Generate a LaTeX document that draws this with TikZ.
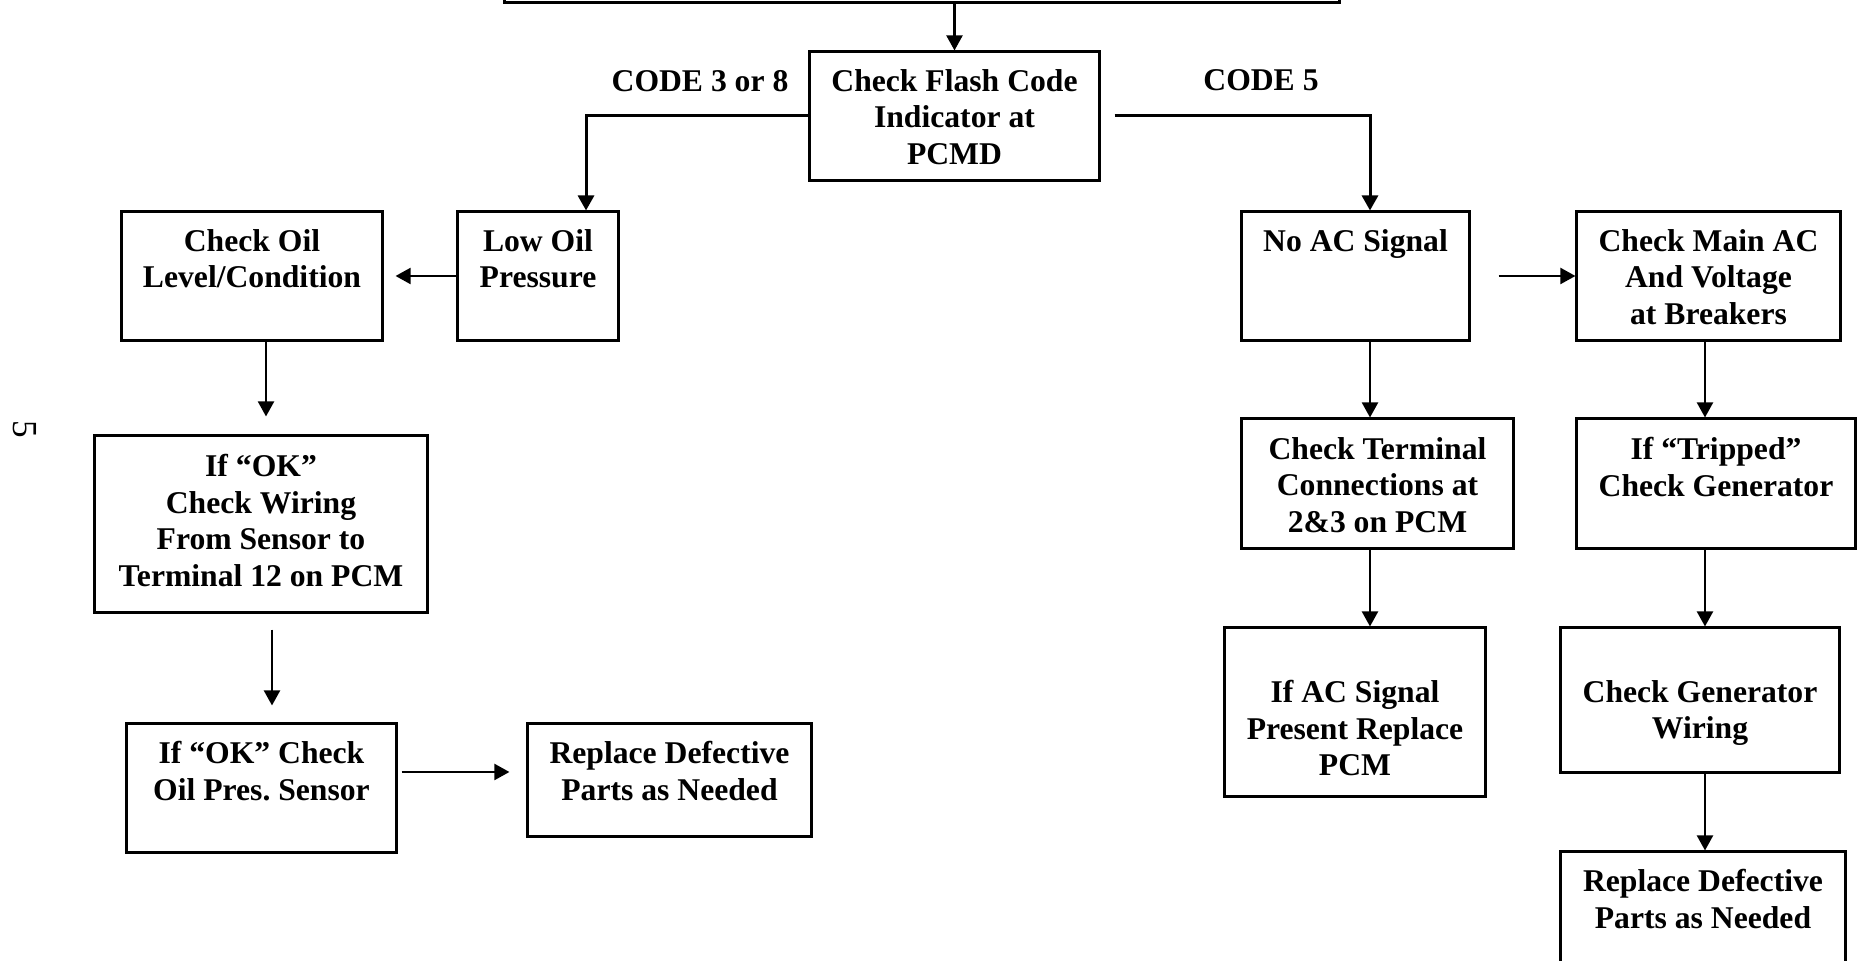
\documentclass[tikz,border=0pt]{standalone}
\usepackage{fontspec}
\setmainfont{Liberation Serif}
\usetikzlibrary{positioning, arrows.meta}

\begin{document}
\begin{tikzpicture}[
    x=0.01cm, y=-0.01cm,
    box/.style={draw, line width=0.85pt, inner sep=0pt},
    txt/.style={align=center, inner sep=0pt, font=\bfseries\fontsize{9}{10.4}\selectfont},
    arr/.style={-{Triangle[length=0.15cm, width=0.16cm]}, line width=0.6pt},
    branch/.style={arr, line width=0.85pt}
]
\useasboundingbox (0,0) rectangle (1862,961);
\clip (0,0) rectangle (1862,961);

% top of the chart, cut off by the page
\node[box, minimum width=8.35cm, minimum height=1.2cm, anchor=south] (start) at (922,4) {};

% flash code check and the two codes
\node[box, minimum width=2.89cm, minimum height=1.28cm] (flash) at (954.5,116) {};
\node[txt, below=0.18cm of flash.north] (flashtxt) {Check Flash Code\\Indicator at\\PCMD};
\node[txt, anchor=base] (code38) at (700,92) {CODE 3 or 8};
\node[txt, anchor=base] (code5) at (1261,91) {CODE 5};

% code 3 or 8 branch
\node[box, minimum width=1.60cm, minimum height=1.28cm] (lowoil) at (538,276) {};
\node[txt, below=0.18cm of lowoil.north] (lowoiltxt) {Low Oil\\Pressure};
\node[box, minimum width=2.60cm, minimum height=1.28cm] (chkoil) at (252,276) {};
\node[txt, below=0.18cm of chkoil.north] (chkoiltxt) {Check Oil\\Level/Condition};
\node[box, minimum width=3.32cm, minimum height=1.76cm] (ifok) at (261,524) {};
\node[txt, below=0.19cm of ifok.north] (ifoktxt) {If “OK”\\Check Wiring\\From Sensor to\\Terminal 12 on PCM};
\node[box, minimum width=2.69cm, minimum height=1.28cm] (sensor) at (261.5,788) {};
\node[txt, below=0.18cm of sensor.north] (sensortxt) {If “OK” Check\\Oil Pres.\ Sensor};
\node[box, minimum width=2.83cm, minimum height=1.12cm] (replaceL) at (669.5,780) {};
\node[txt, below=0.18cm of replaceL.north] (replaceLtxt) {Replace Defective\\Parts as Needed};

% code 5 branch
\node[box, minimum width=2.27cm, minimum height=1.28cm] (noac) at (1355.5,276) {};
\node[txt, below=0.18cm of noac.north] (noactxt) {No AC Signal};
\node[box, minimum width=2.63cm, minimum height=1.28cm] (mainac) at (1708.5,276) {};
\node[txt, below=0.18cm of mainac.north] (mainactxt) {Check Main AC\\And Voltage\\at Breakers};
\node[box, minimum width=2.71cm, minimum height=1.29cm] (terminal) at (1377.5,483.5) {};
\node[txt, below=0.19cm of terminal.north] (terminaltxt) {Check Terminal\\Connections at\\2\&3 on PCM};
\node[box, minimum width=2.78cm, minimum height=1.29cm] (tripped) at (1716,483.5) {};
\node[txt, below=0.19cm of tripped.north] (trippedtxt) {If “Tripped”\\Check Generator};
\node[box, minimum width=2.60cm, minimum height=1.68cm] (acsignal) at (1355,712) {};
\node[txt, below=0.53cm of acsignal.north] (acsignaltxt) {If AC Signal\\Present Replace\\PCM};
\node[box, minimum width=2.78cm, minimum height=1.44cm] (genwiring) at (1700,700) {};
\node[txt, below=0.53cm of genwiring.north] (genwiringtxt) {Check Generator\\Wiring};
\node[box, minimum width=2.84cm, minimum height=1.38cm] (replaceR) at (1703,921) {};
\node[txt, below=0.18cm of replaceR.north] (replaceRtxt) {Replace Defective\\Parts as Needed};

\node[font=\fontsize{10}{12}\selectfont, rotate=-90, inner sep=0pt] (pagenum) at (25,429) {5};

% connectors
\draw[arr] (flash.north |- start.south) -- (flash.north);
\draw[branch] (flash.west) -| ([xshift=0.48cm]lowoil.north);
\draw[branch, shorten <=0.14cm] (flash.east) -| ([xshift=0.145cm]noac.north);
\draw[arr, shorten >=0.12cm] (lowoil.west) -- (chkoil.east);
\draw[arr, shorten >=0.18cm] ([xshift=0.14cm]chkoil.south) -- ([xshift=0.14cm]chkoil.south |- ifok.north);
\draw[arr, shorten <=0.16cm, shorten >=0.17cm] ([xshift=0.11cm]ifok.south) -- ([xshift=0.11cm]ifok.south |- sensor.north);
\draw[arr, shorten <=0.04cm, shorten >=0.17cm] ([yshift=0.16cm]sensor.east) -- ([yshift=0.16cm]sensor.east -| replaceL.west);
\draw[arr, shorten <=0.28cm] (noac.east) -- (mainac.west);
\draw[arr] ([xshift=0.145cm]noac.south) -- ([xshift=0.145cm]noac.south |- terminal.north);
\draw[arr] ([xshift=-0.035cm]mainac.south) -- ([xshift=-0.035cm]mainac.south |- tripped.north);
\draw[arr] ([xshift=-0.075cm]terminal.south) -- ([xshift=-0.075cm]terminal.south |- acsignal.north);
\draw[arr] ([xshift=-0.11cm]tripped.south) -- ([xshift=-0.11cm]tripped.south |- genwiring.north);
\draw[arr] ([xshift=0.05cm]genwiring.south) -- ([xshift=0.05cm]genwiring.south |- replaceR.north);
\end{tikzpicture}
\end{document}
